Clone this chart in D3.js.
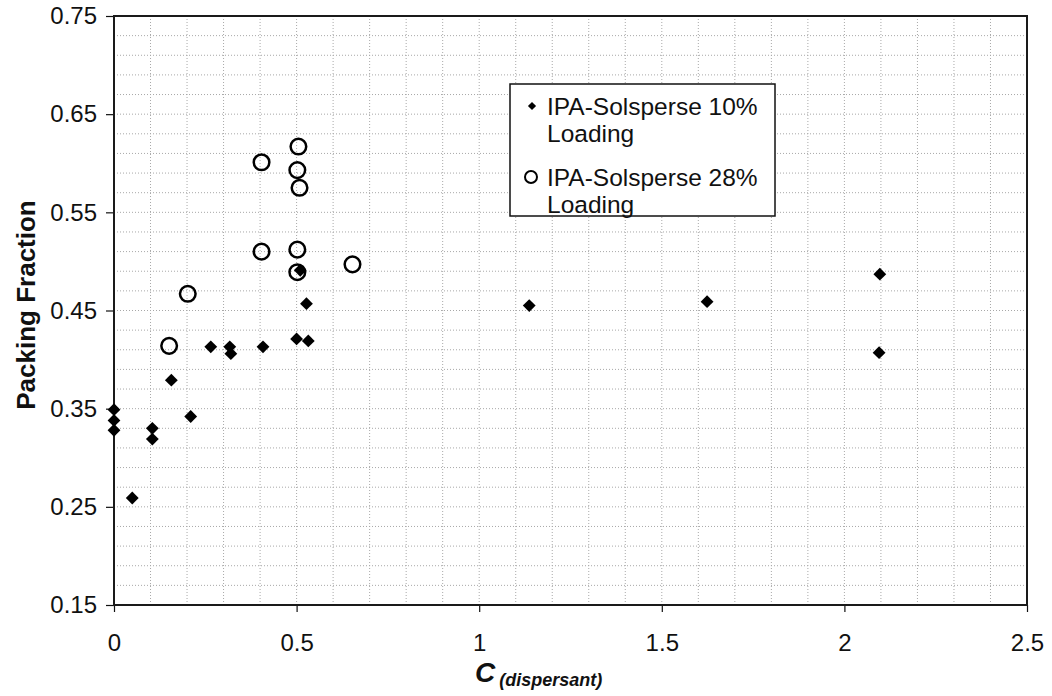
<!DOCTYPE html>
<html>
<head>
<meta charset="utf-8">
<script src="https://cdn.jsdelivr.net/npm/d3@7"></script>
<style>
  body { margin: 0; background: #fff; }
  svg { display: block; font-family: "Liberation Sans", Arial, sans-serif; }
</style>
</head>
<body>
<svg id="chart" width="1052" height="696"></svg>
<script>
// IPA-Solsperse 10% Loading (filled diamonds)
const load10_x = [0, 0, 0, 0.05, 0.105, 0.105, 0.157, 0.21, 0.265, 0.317, 0.32, 0.408, 0.5, 0.51, 0.527, 0.532, 1.137, 1.624, 2.097, 2.095];
const load10_y = [0.349, 0.338, 0.328, 0.259, 0.330, 0.319, 0.379, 0.342, 0.413, 0.413, 0.406, 0.413, 0.421, 0.491, 0.457, 0.419, 0.455, 0.459, 0.487, 0.407];

// IPA-Solsperse 28% Loading (open circles)
const load28_x = [0.151, 0.202, 0.404, 0.404, 0.502, 0.505, 0.508, 0.502, 0.502, 0.653];
const load28_y = [0.414, 0.467, 0.601, 0.510, 0.593, 0.617, 0.575, 0.512, 0.489, 0.497];

const xTicks = [0, 0.5, 1, 1.5, 2, 2.5];
const yTicks = [0.15, 0.25, 0.35, 0.45, 0.55, 0.65, 0.75];
const legendLabels = [["IPA-Solsperse 10%", "Loading"], ["IPA-Solsperse 28%", "Loading"]];

const svg = d3.select("#chart");
const plotL = 114, plotR = 1027, plotT = 16, plotB = 605;

const x = d3.scaleLinear().domain([0, 2.5]).range([plotL, plotR]);
const y = d3.scaleLinear().domain([0.15, 0.75]).range([plotB, plotT]);

// grid: dotted, every 0.1 in x and 0.02 in y
const grid = svg.append("g").attr("stroke", "#a8a8a8").attr("stroke-width", 1).attr("stroke-dasharray", "1,2");
grid.selectAll("line.gx")
    .data(d3.range(1, 25).map(i => i / 10))
    .join("line")
    .attr("x1", d => x(d)).attr("x2", d => x(d))
    .attr("y1", plotT).attr("y2", plotB);
grid.selectAll("line.gy")
    .data(d3.range(1, 30).map(i => 0.15 + i * 0.02))
    .join("line")
    .attr("x1", plotL).attr("x2", plotR)
    .attr("y1", d => y(d)).attr("y2", d => y(d));

// axes
const xAxis = svg.append("g")
    .attr("transform", `translate(0,${plotB})`)
    .call(d3.axisBottom(x).tickValues(xTicks).tickFormat(d3.format("")).tickSize(7).tickPadding(22));
const yAxis = svg.append("g")
    .attr("transform", `translate(${plotL},0)`)
    .call(d3.axisLeft(y).tickValues(yTicks).tickFormat(d3.format(".2f")).tickSize(8).tickPadding(9));

[xAxis, yAxis].forEach(a => {
  a.select(".domain").remove();
  a.selectAll(".tick line").attr("stroke", "#111").attr("stroke-width", 1.2);
  a.selectAll(".tick text").attr("font-size", 24).attr("fill", "#111")
    .attr("font-family", "'Liberation Sans', Arial, sans-serif");
});

// frame
svg.append("rect")
    .attr("x", plotL).attr("y", plotT)
    .attr("width", plotR - plotL).attr("height", plotB - plotT)
    .attr("fill", "none").attr("stroke", "#1a1a1a").attr("stroke-width", 2);

const diamond = d3.symbol().type(d3.symbolSquare).size(82);

// 10% loading diamonds
svg.append("g").selectAll("path")
    .data(load10_x.map((v, i) => [v, load10_y[i]]))
    .join("path")
    .attr("d", diamond)
    .attr("transform", d => `translate(${x(d[0])},${y(d[1])}) rotate(45)`)
    .attr("fill", "#000");

// 28% loading circles
svg.append("g").selectAll("circle")
    .data(load28_x.map((v, i) => [v, load28_y[i]]))
    .join("circle")
    .attr("cx", d => x(d[0])).attr("cy", d => y(d[1]))
    .attr("r", 7.8)
    .attr("fill", "none").attr("stroke", "#000").attr("stroke-width", 2.5);

// legend
const legend = svg.append("g");
legend.append("rect")
    .attr("x", 510).attr("y", 84).attr("width", 265).attr("height", 132)
    .attr("fill", "#fff").attr("stroke", "#111").attr("stroke-width", 1.5);
legend.append("path")
    .attr("d", d3.symbol().type(d3.symbolSquare).size(34))
    .attr("transform", "translate(532,106) rotate(45)")
    .attr("fill", "#000");
legend.append("circle")
    .attr("cx", 531).attr("cy", 177).attr("r", 6)
    .attr("fill", "none").attr("stroke", "#000").attr("stroke-width", 2);
legendLabels.forEach((lines, i) => {
  lines.forEach((t, j) => {
    legend.append("text")
        .attr("x", 547).attr("y", 115 + i * 71 + j * 27)
        .attr("font-size", 24.5).attr("fill", "#111")
        .text(t);
  });
});

// axis titles
svg.append("text")
    .attr("transform", "translate(35,305) rotate(-90)")
    .attr("text-anchor", "middle")
    .attr("font-size", 26).attr("font-weight", "bold").attr("fill", "#111")
    .text("Packing Fraction");

const xt = svg.append("text")
    .attr("x", 475).attr("y", 682)
    .attr("font-weight", "bold").attr("font-style", "italic").attr("fill", "#111");
xt.append("tspan").attr("font-size", 28).text("C");
xt.append("tspan").attr("font-size", 18).attr("dx", 4).attr("dy", 4).text("(dispersant)");
</script>
</body>
</html>
